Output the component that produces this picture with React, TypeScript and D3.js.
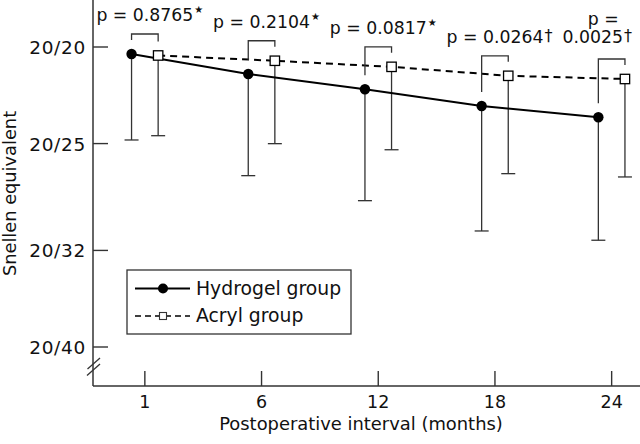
import React from "react";
import * as d3 from "d3";

// ---- data (logMAR units; 0 = 20/20) ----
const months = ["1", "6", "12", "18", "24"];
const hydrogelMean = [0.007, 0.0271, 0.0424, 0.0592, 0.0705];
const hydrogelSD = [0.0863, 0.102, 0.1118, 0.1254, 0.1234];
const acrylMean = [0.0085, 0.0138, 0.0199, 0.0289, 0.0321];
const acrylSD = [0.0805, 0.0832, 0.0832, 0.0982, 0.0983];
const pValues = ["0.8765", "0.2104", "0.0817", "0.0264", "0.0025"];
const pMarks = ["★", "★", "★", "†", "†"];
const yTickLabels = ["20/20", "20/25", "20/32", "20/40"];
const yTickValues = [0, Math.log10(25 / 20), Math.log10(32 / 20), Math.log10(40 / 20)];
const seriesNames = ["Hydrogel group", "Acryl group"];

const W = 640;
const H = 444;
const FONT = "'DejaVu Sans', sans-serif";
const INK = "#111";
const LINE = "#333";

export default function App() {
  const axisX = 93;
  const axisY = 386;
  const x = d3.scalePoint<string>().domain(months).range([144.85, 611.65]);
  const y = d3.scaleLinear().domain([0, Math.log10(2)]).range([47, 347]);
  const off = 13.3;
  const xH = (m: string) => (x(m) as number) - off;
  const xA = (m: string) => (x(m) as number) + off;

  const hydro = months.map((m, i) => ({ m, x: xH(m), y: y(hydrogelMean[i]), lo: y(hydrogelMean[i] + hydrogelSD[i]) }));
  const acryl = months.map((m, i) => ({ m, x: xA(m), y: y(acrylMean[i]), lo: y(acrylMean[i] + acrylSD[i]) }));

  const line = d3.line<{ x: number; y: number }>().x((d) => d.x).y((d) => d.y);

  const pFont = 17.3;
  const charW = (s: string) =>
    s.split("").reduce((a, c) => a + (c === " " ? 0.318 : c === "." ? 0.318 : c === "=" ? 0.838 : 0.636), 0) * pFont;

  return (
    <svg
      width={W}
      height={H}
      style={{ position: "absolute", left: 0, top: 0, background: "#fff" }}
      fontFamily={FONT}
    >
      <rect x={0} y={0} width={W} height={H} fill="#fff" />
      {/* axes */}
      <line x1={axisX} y1={0} x2={axisX} y2={axisY} stroke={LINE} strokeWidth={1.5} />
      <line x1={axisX} y1={axisY} x2={W} y2={axisY} stroke={LINE} strokeWidth={1.5} />
      {/* axis break */}
      <line x1={87.5} y1={369} x2={100} y2={358} stroke={LINE} strokeWidth={1.3} />
      <line x1={87} y1={375.5} x2={100} y2={364} stroke={LINE} strokeWidth={1.3} />

      {/* y ticks */}
      {yTickValues.map((v, i) => (
        <g key={"yt" + i}>
          <line x1={axisX} x2={axisX + 15} y1={y(v)} y2={y(v)} stroke={LINE} strokeWidth={1.4} />
          <text x={86} y={y(v) + 7} textAnchor="end" fontSize={18.5} letterSpacing={0.7} fill={INK}>
            {yTickLabels[i]}
          </text>
        </g>
      ))}
      {/* x ticks */}
      {months.map((m) => (
        <g key={"xt" + m}>
          <line x1={x(m)} x2={x(m)} y1={axisY} y2={axisY - 15} stroke={LINE} strokeWidth={1.4} />
          <text x={x(m)} y={407.5} textAnchor="middle" fontSize={17.5} fill={INK}>
            {m}
          </text>
        </g>
      ))}
      <text x={361} y={429.5} textAnchor="middle" fontSize={17.9} fill={INK}>
        Postoperative interval (months)
      </text>
      <text
        transform={`translate(15.5,193.5) rotate(-90)`}
        textAnchor="middle"
        fontSize={17.8}
        fill={INK}
      >
        Snellen equivalent
      </text>

      {/* error bars */}
      {[...hydro, ...acryl].map((d, i) => (
        <g key={"eb" + i}>
          <line x1={d.x} x2={d.x} y1={d.y} y2={d.lo} stroke={LINE} strokeWidth={1.3} />
          <line x1={d.x - 7} x2={d.x + 7} y1={d.lo} y2={d.lo} stroke={LINE} strokeWidth={1.3} />
        </g>
      ))}

      {/* lines */}
      <path d={line(hydro) || ""} fill="none" stroke="#000" strokeWidth={2} />
      <path d={line(acryl) || ""} fill="none" stroke="#000" strokeWidth={2} strokeDasharray="7,5" />

      {/* markers */}
      {hydro.map((d, i) => (
        <circle key={"h" + i} cx={d.x} cy={d.y} r={5.2} fill="#000" />
      ))}
      {acryl.map((d, i) => (
        <rect key={"a" + i} x={d.x - 4.7} y={d.y - 4.7} width={9.4} height={9.4} fill="#fff" stroke="#000" strokeWidth={1.3} />
      ))}

      {/* brackets + p labels */}
      {months.map((m, i) => {
        const h = hydro[i];
        const a = acryl[i];
        const top = Math.min(h.y, a.y) - 20;
        const cx = (h.x + a.x) / 2;
        const main = pValues[i];
        const full = "p = " + main;
        const fullW = charW(full);
        const isStar = pMarks[i] === "★";
        const markW = isStar ? 10 : 9;
        const fits = cx + fullW / 2 + markW < W - 4;
        let labels;
        if (fits) {
          const base = top - 13;
          labels = (
            <g>
              <text x={cx} y={base} textAnchor="middle" fontSize={pFont} fill={INK}>
                {full}
              </text>
              <text x={cx + fullW / 2 + 1} y={base - (isStar ? 8 : 2)} fontSize={isStar ? 10 : 16} fill={INK}>
                {pMarks[i]}
              </text>
            </g>
          );
        } else {
          const mw = charW(main);
          const mc = Math.min(cx, W - 8 - markW - mw / 2);
          const base2 = top - 15.7;
          const base1 = base2 - 18.3;
          labels = (
            <g>
              <text x={mc + markW / 2 + 6} y={base1} textAnchor="middle" fontSize={pFont} fill={INK}>
                p =
              </text>
              <text x={mc} y={base2} textAnchor="middle" fontSize={pFont} fill={INK}>
                {main}
              </text>
              <text x={mc + mw / 2 + 1} y={base2 - 2} fontSize={16} fill={INK}>
                {pMarks[i]}
              </text>
            </g>
          );
        }
        return (
          <g key={"br" + i}>
            <path d={`M${h.x},${h.y - 14}V${top}H${a.x}V${a.y - 14}`} fill="none" stroke={LINE} strokeWidth={1.3} />
            {labels}
          </g>
        );
      })}

      {/* legend */}
      <g>
        <rect x={127} y={270} width={224} height={64} fill="#fff" stroke={LINE} strokeWidth={1.3} />
        <line x1={135} x2={190} y1={288.5} y2={288.5} stroke="#000" strokeWidth={1.8} />
        <circle cx={163} cy={288.5} r={5} fill="#000" />
        <text x={196} y={294.5} fontSize={18.8} fill={INK}>
          {seriesNames[0]}
        </text>
        <line x1={135} x2={190} y1={316} y2={316} stroke="#000" strokeWidth={1.5} strokeDasharray="6,4" />
        <rect x={159.5} y={312.5} width={7} height={7} fill="#fff" stroke="#333" strokeWidth={1.1} />
        <text x={196} y={321.5} fontSize={18.8} fill={INK}>
          {seriesNames[1]}
        </text>
      </g>
    </svg>
  );
}
